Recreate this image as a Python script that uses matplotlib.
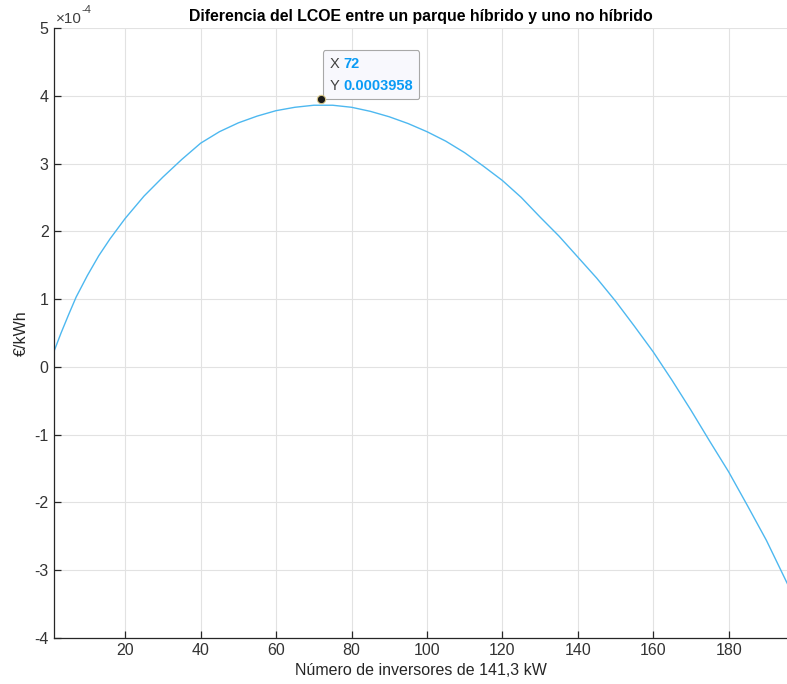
import numpy as np
import matplotlib
matplotlib.use("Agg")
import matplotlib.pyplot as plt
from matplotlib.ticker import FuncFormatter
from matplotlib.offsetbox import TextArea, HPacker, VPacker, AnnotationBbox

plt.rcParams["font.family"] = ["Liberation Sans", "DejaVu Sans"]
plt.rcParams["axes.unicode_minus"] = False

# number of inverters and LCOE difference (in units of 1e-4 EUR/kWh)
n_inv = [1, 3, 5, 7, 10, 13, 16, 20, 25, 30, 35, 40, 45, 50, 55, 60, 65, 70, 75,
         80, 85, 90, 95, 100, 105, 110, 115, 120, 125, 130, 135, 140, 145, 150,
         155, 160, 165, 170, 175, 180, 185, 190, 196]
dlcoe = [0.21, 0.50, 0.77, 1.03, 1.35, 1.64, 1.89, 2.19, 2.52, 2.80, 3.06, 3.30,
         3.47, 3.60, 3.70, 3.78, 3.83, 3.86, 3.86, 3.83, 3.77, 3.69, 3.59, 3.47,
         3.33, 3.16, 2.96, 2.75, 2.50, 2.21, 1.93, 1.62, 1.31, 0.97, 0.60, 0.22,
         -0.20, -0.64, -1.10, -1.55, -2.05, -2.56, -3.25]

# data tip
tip_x = 72
tip_y = 0.0003958

scale = 1e-4
x = np.array(n_inv)
y = np.array(dlcoe) * scale

fig = plt.figure(figsize=(7.87, 6.84), dpi=100)
ax = fig.add_axes([0.068, 0.0673, 0.9346, 0.8918])

ax.plot(x, y, color="#4db8f0", lw=1.0)
ax.plot(tip_x, tip_y, "o", color="#1a1a1a", ms=6, mec="#d9c98a", mew=0.8, zorder=5)

ax.set_xlim(1, 196)
ax.set_ylim(-4 * scale, 5 * scale)
ax.set_xticks(np.arange(20, 200, 20))
ax.set_yticks(np.arange(-4, 6, 1) * scale)
ax.yaxis.set_major_formatter(FuncFormatter(lambda v, p: f"{v / scale:.0f}"))

ax.grid(True, color="#e2e2e2", lw=0.8)
ax.set_axisbelow(True)
for s in ["top", "right"]:
    ax.spines[s].set_visible(False)
for s in ["left", "bottom"]:
    ax.spines[s].set_color("#262626")
    ax.spines[s].set_linewidth(0.9)
ax.tick_params(direction="in", length=5, width=0.9, colors="#262626",
               labelcolor="#333333", labelsize=11.5)

# exponent label
t10 = ax.text(0.003, 1.004, "×10", transform=ax.transAxes, fontsize=11,
              color="#404040", va="bottom", ha="left")
ax.annotate("-4", xy=(1, 0.75), xycoords=t10, fontsize=8, color="#404040",
            va="bottom", ha="left")

ax.set_title("Diferencia del LCOE entre un parque híbrido y uno no híbrido",
             fontsize=11.4, fontweight="bold", pad=5)
ax.set_xlabel("Número de inversores de 141,3 kW", fontsize=11.5, color="#262626")
ax.set_ylabel("€/kWh", fontsize=11.5, color="#262626")

# data tip box
blue = "#0a9bf5"
grey = "#404040"
row1 = HPacker(children=[TextArea("X", textprops=dict(color=grey, size=10.5)),
                         TextArea(str(tip_x), textprops=dict(color=blue, size=10.5, weight="bold"))],
               sep=3, pad=0, align="baseline")
row2 = HPacker(children=[TextArea("Y", textprops=dict(color=grey, size=10.5)),
                         TextArea(f"{tip_y:.7f}", textprops=dict(color=blue, size=10.5, weight="bold"))],
               sep=3, pad=0, align="baseline")
box = VPacker(children=[row1, row2], sep=6, pad=0, align="left")
ab = AnnotationBbox(box, (tip_x, tip_y), xybox=(6, 4), xycoords="data",
                    boxcoords="offset points", box_alignment=(0, 0), pad=0.45,
                    frameon=True,
                    bboxprops=dict(fc="#f8f8fd", ec="#a8a8a8", lw=0.8,
                                   boxstyle="round,pad=0.45,rounding_size=0.15"))
ax.add_artist(ab)

fig.savefig("out.png", dpi=100)
